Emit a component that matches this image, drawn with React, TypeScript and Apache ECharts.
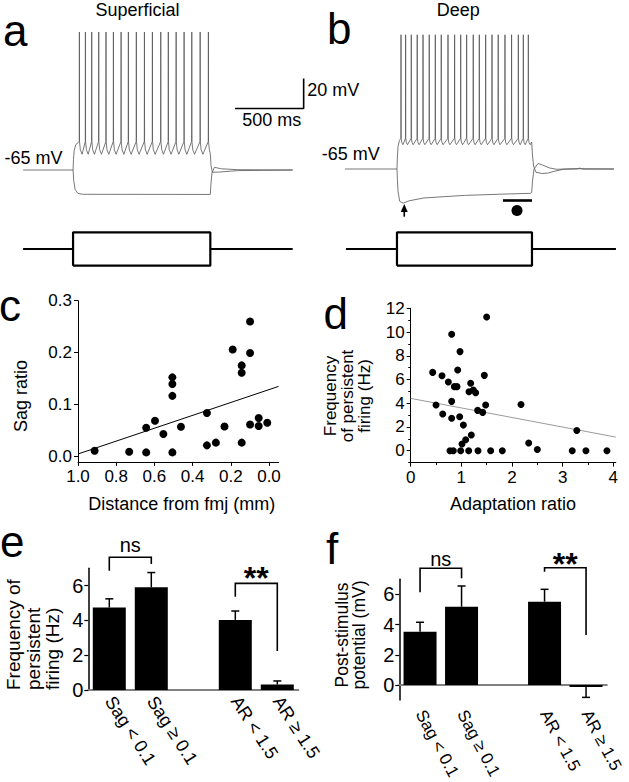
import React, { useEffect, useRef } from 'react';
import * as echarts from 'echarts';

const FONT = '"Liberation Sans", Arial, Helvetica, sans-serif';

// ---------- panels a / b : membrane potential traces (t in ms from step onset, V in mV) ----------
const spikeTimesA = [46, 90, 136, 187, 240, 294, 350, 403, 461, 520, 578, 639, 694, 751, 809, 865, 926, 986];
const spikeTimesB = [30, 64, 106, 150, 193, 239, 284, 328, 378, 427, 472, 516, 565, 610, 657, 704, 750, 800, 849, 899, 936, 973];
const spikeShapeA = [[-1, -46], [0, 27], [1, -46], [7, -51.5], [20, -54.5]];
const spikeShapeB = [[-1, -44.5], [0, 24.5], [1, -44.5], [6, -47.5], [14, -48.8]];
const depolPreA = [[-364, -65], [0, -65], [3, -58], [8, -52], [20, -48], [40, -46.5]];
const depolPostA = [[1000, -54], [1005, -62], [1015, -66.5], [1060, -66.4], [1200, -65.4], [1600, -65]];
const hyperA = [[0, -65], [5, -72], [15, -78], [35, -80.6], [70, -81.2], [1000, -81.3], [1004, -75], [1012, -67], [1030, -63.2], [1080, -64.2], [1200, -64.8], [1600, -65]];
const depolPreB = [[-385, -65], [0, -65], [3, -57], [8, -50], [18, -46]];
const depolPostB = [[998, -47], [1003, -55], [1012, -63], [1030, -67.2], [1075, -68], [1120, -67.7], [1170, -66.4], [1232, -65.2], [1333, -65], [1352, -64.4], [1378, -65.1], [1607, -65]];
const hyperB = [[0, -65], [3, -72], [8, -80], [20, -86.5], [45, -87.8], [90, -86.2], [200, -84.3], [500, -82.6], [800, -81.7], [992, -81.2], [998, -80.5], [1004, -73], [1015, -65], [1045, -61.3], [1080, -62.4], [1130, -64.3], [1183, -65.2], [1300, -64.8], [1607, -65]];
const stimTimesA = [-364, 0, 1000, 1600];
const stimTimesB = [-378, 0, 1000, 1622];
const scaleBarTime = [1180, 1680]; // 500 ms
const scaleBarVolt = [-24, -4]; // 20 mV
const sagArrow = [54, -96.8, -91]; // t, from, to
const sagArrowHead = [54, -91];
const steadyBar = [[785, -86], [1000, -86]];
const steadyDot = [[889, -92.7]];

// ---------- panel c ----------
const cDistance = [0.913, 0.732, 0.643, 0.643, 0.597, 0.553, 0.506, 0.506, 0.506, 0.506, 0.461, 0.325, 0.325, 0.278, 0.233, 0.19, 0.143, 0.143, 0.143, 0.099, 0.099, 0.099, 0.054, 0.054, 0.009];
const cSag = [0.0115, 0.0096, 0.0558, 0.0083, 0.069, 0.0436, 0.1526, 0.1397, 0.117, 0.0083, 0.0577, 0.084, 0.0218, 0.027, 0.058, 0.206, 0.1756, 0.1615, 0.027, 0.26, 0.1994, 0.062, 0.0744, 0.059, 0.0654];
const cFit = [[1.0, 0.0052], [-0.05, 0.1352]];
const cXTicks = [0, 0.2, 0.4, 0.6, 0.8, 1.0];
const cYTicks = [0, 0.1, 0.2, 0.3];

// ---------- panel d ----------
const dAdapt = [0.434, 0.5, 0.618, 0.632, 0.743, 0.776, 0.809, 0.809, 0.809, 0.842, 0.862, 0.914, 0.928, 0.967, 0.974, 0.987, 1.013, 1.04, 1.086, 1.145, 1.151, 1.184, 1.197, 1.237, 1.283, 1.322, 1.329, 1.421, 1.454, 1.48, 1.5, 1.579, 1.809, 2.178, 2.33, 2.5, 3.19, 3.28, 3.46, 3.875];
const dFreq = [6.6, 3.85, 6.32, 3.09, 5.79, 0, 9.81, 4.16, 2.73, 0, 5.4, 5.4, 6.8, 2.87, 8.35, 0, 0.56, 2.16, 0.93, 0, 4.97, 5.68, 1.32, 5.12, 4.89, 3.4, 0, 3.23, 6.35, 3.85, 11.27, 0, 0, 3.9, 0.65, 0.11, 0, 1.71, 0, 0];
const dFit = [[0, 4.41], [4.05, 1.15]];
const dXTicks = [0, 1, 2, 3, 4];
const dXMinor = [0.5, 1.5, 2.5, 3.5];
const dYTicks = [0, 2, 4, 6, 8, 10, 12];
const dYMinor = [-1, 1, 3, 5, 7, 9, 11];

// ---------- panels e / f ----------
const groups = ['Sag < 0.1', 'Sag \u2265 0.1', '', 'AR < 1.5', 'AR \u2265 1.5'];
const eMean = [4.74, 5.9, null, 4.03, 0.31];
const eSem = [0.5, 0.85, null, 0.51, 0.21];
const fMean = [3.53, 5.18, null, 5.51, -0.13];
const fSem = [0.62, 1.37, null, 0.82, 0.69];
const barTicks = [0, 2, 4, 6];
// bracket: [fromIdx, toIdx, top, leftLegEnd, rightLegEnd, labelY]
const eBrackets = [[0, 1, 7.63, 6.86, 7.24, 8.33], [3, 4, 6.13, 5.36, 2.24, 6.8]];
const fBrackets = [[0, 1, 7.72, 6.13, 7.06, 8.33], [3, 4, 7.76, 7.49, 3.31, 8.45]];
const bracketLabels = ['ns', '**'];

function buildTrace(pre: number[][], spikes: number[], shape: number[][], post: number[][]) {
  const pts: number[][] = pre.map((p) => [p[0], p[1]]);
  spikes.forEach((s) => shape.forEach(([dt, v]) => pts.push([s + dt, v])));
  const end = post[0][0];
  return pts.filter((p) => p[0] < end).concat(post.map((p) => [p[0], p[1]]));
}

function stimRows(t: number[]) {
  return [
    [[t[0], 0], [t[1], 0]],
    [[t[1], -1], [t[1], 1], [t[2], 1], [t[2], -1], [t[1], -1]],
    [[t[2], 0], [t[3], 0]],
  ];
}

const hiddenAxis = (gridIndex: number, min: number, max: number) => ({
  type: 'value', gridIndex, min, max, show: false, splitLine: { show: false },
});

const lbl = (size: number, margin: number, extra: any = {}) => ({
  show: true, color: '#000', fontSize: size, fontFamily: FONT, margin, ...extra,
});

function valueAxis(gridIndex: number, min: number, max: number, ticks: number[], fmt: (v: number) => string, extra: any = {}) {
  return {
    type: 'value', gridIndex, min, max,
    axisLine: { show: true, onZero: false, lineStyle: { color: '#000', width: 1 } },
    axisTick: { show: true, length: 4, customValues: ticks, lineStyle: { color: '#000', width: 1 } },
    axisLabel: lbl(17, 6, { customValues: ticks, formatter: (v: number) => fmt(v) }),
    splitLine: { show: false },
    ...extra,
  };
}

function minorAxis(gridIndex: number, min: number, max: number, ticks: number[], position: string, extra: any = {}) {
  return {
    type: 'value', gridIndex, min, max, position,
    axisLine: { show: false, onZero: false },
    axisTick: { show: true, length: 2.5, customValues: ticks, lineStyle: { color: '#000', width: 1 } },
    axisLabel: { show: false },
    splitLine: { show: false },
    ...extra,
  };
}

function errorSeries(xi: number, yi: number, mean: (number | null)[], sem: (number | null)[]) {
  const data = mean.map((m, i) => (m == null ? null : [i, m, sem[i]])).filter((d) => d) as number[][];
  return {
    type: 'custom', xAxisIndex: xi, yAxisIndex: yi, clip: false, silent: true, z: 5,
    encode: { x: 0, y: 1 },
    data,
    renderItem: (params: any, api: any) => {
      const d = data[params.dataIndex];
      const p0 = api.coord([d[0], d[1]]);
      const p1 = api.coord([d[0], d[1] >= 0 ? d[1] + d[2] : d[1] - d[2]]);
      const st = { stroke: '#000', lineWidth: 1.5 };
      return {
        type: 'group',
        children: [
          { type: 'line', shape: { x1: p0[0], y1: p0[1], x2: p1[0], y2: p1[1] }, style: st },
          { type: 'line', shape: { x1: p1[0] - 4, y1: p1[1], x2: p1[0] + 4, y2: p1[1] }, style: st },
        ],
      };
    },
  };
}

function bracketSeries(xi: number, yi: number, brackets: number[][]) {
  return {
    type: 'custom', xAxisIndex: xi, yAxisIndex: yi, clip: false, silent: true, z: 6,
    encode: { x: 0, y: 1 },
    data: brackets.map((b) => [b[0], b[2]]),
    renderItem: (params: any, api: any) => {
      const b = brackets[params.dataIndex];
      const pl = api.coord([b[0], b[3]]);
      const plt = api.coord([b[0], b[2]]);
      const prt = api.coord([b[1], b[2]]);
      const pr = api.coord([b[1], b[4]]);
      const lab = bracketLabels[params.dataIndex];
      const isStar = lab === '**';
      const fs = isStar ? 32 : 20;
      const ly = api.coord([b[0], b[5]])[1] + (isStar ? 0.2 * fs : 0);
      return {
        type: 'group',
        children: [
          { type: 'polyline', shape: { points: [pl, plt, prt, pr] }, style: { stroke: '#000', lineWidth: 1.6, fill: null } },
          {
            type: 'text', x: (plt[0] + prt[0]) / 2, y: ly,
            style: {
              text: lab, fill: '#000', fontSize: fs, fontFamily: FONT, fontWeight: isStar ? 'bold' : 'normal',
              textAlign: 'center', align: 'center', textVerticalAlign: 'middle', verticalAlign: 'middle',
            },
          },
        ],
      };
    },
  };
}

const txt = (text: string, x: number, y: number, fontSize: number, o: any = {}) => ({
  type: 'text', x, y, rotation: o.rot || 0, silent: true, z: 10,
  style: {
    text, fill: '#000', fontSize, fontFamily: FONT, fontWeight: o.weight || 'normal',
    textAlign: o.align || 'left', align: o.align || 'left',
    textVerticalAlign: 'middle', verticalAlign: 'middle',
    lineHeight: o.lh || fontSize * 1.2,
  },
});

const traceLine = (xi: number, data: number[][], extra: any = {}) => ({
  type: 'line', xAxisIndex: xi, yAxisIndex: xi, data, showSymbol: false, symbol: 'none',
  clip: false, silent: true, lineStyle: { color: '#555', width: 0.8 }, ...extra,
});

function buildOption() {
  const depA = buildTrace(depolPreA, spikeTimesA, spikeShapeA, depolPostA);
  const depB = buildTrace(depolPreB, spikeTimesB, spikeShapeB, depolPostB);
  const stimA = stimRows(stimTimesA);
  const stimB = stimRows(stimTimesB);
  const stimSeries = (xi: number, rows: number[][][]) =>
    rows.map((r) => ({
      type: 'line', xAxisIndex: xi, yAxisIndex: xi, data: r, showSymbol: false, symbol: 'none',
      clip: false, silent: true, lineStyle: { color: '#000', width: 2.2 },
    }));

  const grids = [
    { left: 23.1, top: 27.5, width: 283.3, height: 195 },
    { left: 345, top: 26.5, width: 271.35, height: 195 },
    { left: 23.1, top: 232.3, width: 283.3, height: 33.4 },
    { left: 345, top: 232.3, width: 271.35, height: 33.4 },
    { left: 78, top: 300.7, width: 200.55, height: 161.2 },
    { left: 410.7, top: 308.3, width: 205.1, height: 154.3 },
    { left: 88.3, top: 568.2, width: 210, height: 121.8 },
    { left: 399.3, top: 579.2, width: 207.5, height: 120.9 },
  ].map((g) => ({ ...g, containLabel: false, outerBoundsMode: 'none', show: false }));

  const catAxis = (gridIndex: number, margin: number, size: number, rotate: number) => ({
    type: 'category', gridIndex, data: groups, boundaryGap: true,
    axisLine: { show: true, onZero: true, lineStyle: { color: '#808080', width: 2 } },
    axisTick: { show: false },
    axisLabel: lbl(size, margin, { rotate, interval: 0, hideOverlap: false, lineHeight: size }),
    splitLine: { show: false },
  });

  const barAxis = (gridIndex: number, min: number) => ({
    type: 'value', gridIndex, min, max: 7,
    axisLine: { show: true, onZero: false, lineStyle: { color: '#000', width: 1.5 } },
    axisTick: { show: true, length: 4, customValues: barTicks, lineStyle: { color: '#000', width: 1.2 } },
    axisLabel: lbl(20, 5, { customValues: barTicks, formatter: (v: number) => String(v) }),
    splitLine: { show: false },
  });

  const dot = { color: '#000', opacity: 1 };

  return {
    animation: false,
    backgroundColor: '#fff',
    textStyle: { fontFamily: FONT },
    grid: grids,
    xAxis: [
      hiddenAxis(0, -364, 1700),
      hiddenAxis(1, -385, 1625),
      hiddenAxis(2, -364, 1700),
      hiddenAxis(3, -385, 1625),
      valueAxis(4, -0.05, 1.0, cXTicks, (v) => v.toFixed(1), { inverse: true, position: 'bottom' }),
      valueAxis(5, 0, 4.05, dXTicks, (v) => String(Math.round(v)), { position: 'bottom' }),
      catAxis(6, 8, 18, -57),
      catAxis(7, 11, 17, -62),
      minorAxis(5, 0, 4.05, dXMinor, 'bottom'),
    ],
    yAxis: [
      hiddenAxis(0, -100, 30),
      hiddenAxis(1, -100, 30),
      hiddenAxis(2, -1, 1),
      hiddenAxis(3, -1, 1),
      valueAxis(4, -0.01, 0.3, cYTicks, (v) => v.toFixed(1), { position: 'left' }),
      valueAxis(5, -1, 12, dYTicks, (v) => String(Math.round(v)), { position: 'left' }),
      barAxis(6, 0),
      barAxis(7, -1),
      minorAxis(5, -1, 12, dYMinor, 'left'),
    ],
    series: [
      traceLine(0, depA),
      traceLine(0, hyperA),
      traceLine(0, [[scaleBarTime[0], scaleBarVolt[0]], [scaleBarTime[1], scaleBarVolt[0]], [scaleBarTime[1], scaleBarVolt[1]]], { lineStyle: { color: '#000', width: 1.6 } }),
      traceLine(1, depB),
      traceLine(1, hyperB),
      traceLine(1, [[sagArrow[0], sagArrow[1]], [sagArrow[0], sagArrow[2]]], { lineStyle: { color: '#000', width: 1.6 } }),
      {
        type: 'scatter', xAxisIndex: 1, yAxisIndex: 1, data: [sagArrowHead], symbol: 'triangle', symbolSize: [7, 8],
        itemStyle: dot, silent: true, clip: false,
      },
      traceLine(1, steadyBar, { lineStyle: { color: '#000', width: 2.6 } }),
      {
        type: 'scatter', xAxisIndex: 1, yAxisIndex: 1, data: steadyDot, symbol: 'circle', symbolSize: 11,
        itemStyle: dot, silent: true, clip: false,
      },
      ...stimSeries(2, stimA),
      ...stimSeries(3, stimB),
      {
        type: 'scatter', xAxisIndex: 4, yAxisIndex: 4, data: cDistance.map((x, i) => [x, cSag[i]]),
        symbolSize: 8, itemStyle: dot, silent: true, z: 4,
      },
      {
        type: 'line', xAxisIndex: 4, yAxisIndex: 4, data: cFit, showSymbol: false, symbol: 'none', silent: true,
        clip: false, lineStyle: { color: '#000', width: 1 }, z: 3,
      },
      {
        type: 'scatter', xAxisIndex: 5, yAxisIndex: 5, data: dAdapt.map((x, i) => [x, dFreq[i]]),
        symbolSize: 7, itemStyle: dot, silent: true, z: 4,
      },
      {
        type: 'line', xAxisIndex: 5, yAxisIndex: 5, data: dFit, showSymbol: false, symbol: 'none', silent: true,
        clip: false, lineStyle: { color: '#9a9a9a', width: 1 }, z: 3,
      },
      {
        type: 'bar', xAxisIndex: 6, yAxisIndex: 6, data: eMean.map((v) => (v == null ? '-' : v)), barWidth: 33,
        itemStyle: dot, silent: true,
      },
      errorSeries(6, 6, eMean, eSem),
      bracketSeries(6, 6, eBrackets),
      {
        type: 'bar', xAxisIndex: 7, yAxisIndex: 7, data: fMean.map((v) => (v == null ? '-' : v)), barWidth: 33,
        itemStyle: dot, silent: true,
      },
      errorSeries(7, 7, fMean, fSem),
      bracketSeries(7, 7, fBrackets),
    ],
    graphic: [
      txt('a', 3, 30, 44),
      txt('b', 327, 28, 44),
      txt('c', -1, 305, 44),
      txt('d', 323.5, 313, 44),
      txt('e', 0, 541, 44),
      txt('f', 326, 548, 44),
      txt('Superficial', 137.5, 9.5, 18, { align: 'center', lh: 18 }),
      txt('Deep', 458.3, 10, 18, { align: 'center', lh: 18 }),
      txt('-65 mV', 33.5, 157.5, 18, { align: 'center' }),
      txt('-65 mV', 350.8, 154.2, 18, { align: 'center' }),
      txt('20 mV', 307.3, 89.5, 18),
      txt('500 ms', 271.7, 119.5, 18, { align: 'center' }),
      txt('Sag ratio', 20.5, 396, 18, { align: 'center', rot: Math.PI / 2 }),
      txt('Distance from fmj (mm)', 181.7, 504, 18, { align: 'center' }),
      txt('Frequency\nof persistent\nfiring (Hz)', 347.4, 396, 17, { align: 'center', rot: Math.PI / 2, lh: 16.7 }),
      txt('Adaptation ratio', 513, 504, 18, { align: 'center' }),
      txt('Frequency of\npersistent\nfiring (Hz)', 33, 690, 19, { align: 'left', rot: Math.PI / 2, lh: 19.5 }),
      txt('Post-stimulus\npotential (mV)', 350.4, 635, 17.5, { align: 'center', rot: Math.PI / 2, lh: 17 }),
    ],
  };
}

export default function App() {
  const ref = useRef<HTMLDivElement>(null);
  useEffect(() => {
    if (!ref.current) return;
    const chart = echarts.init(ref.current, null, { renderer: 'svg' });
    chart.setOption(buildOption() as any);
    return () => chart.dispose();
  }, []);
  return (
    <div
      ref={ref}
      style={{ position: 'absolute', left: 0, top: 0, width: 629, height: 782, background: '#fff' }}
    />
  );
}
